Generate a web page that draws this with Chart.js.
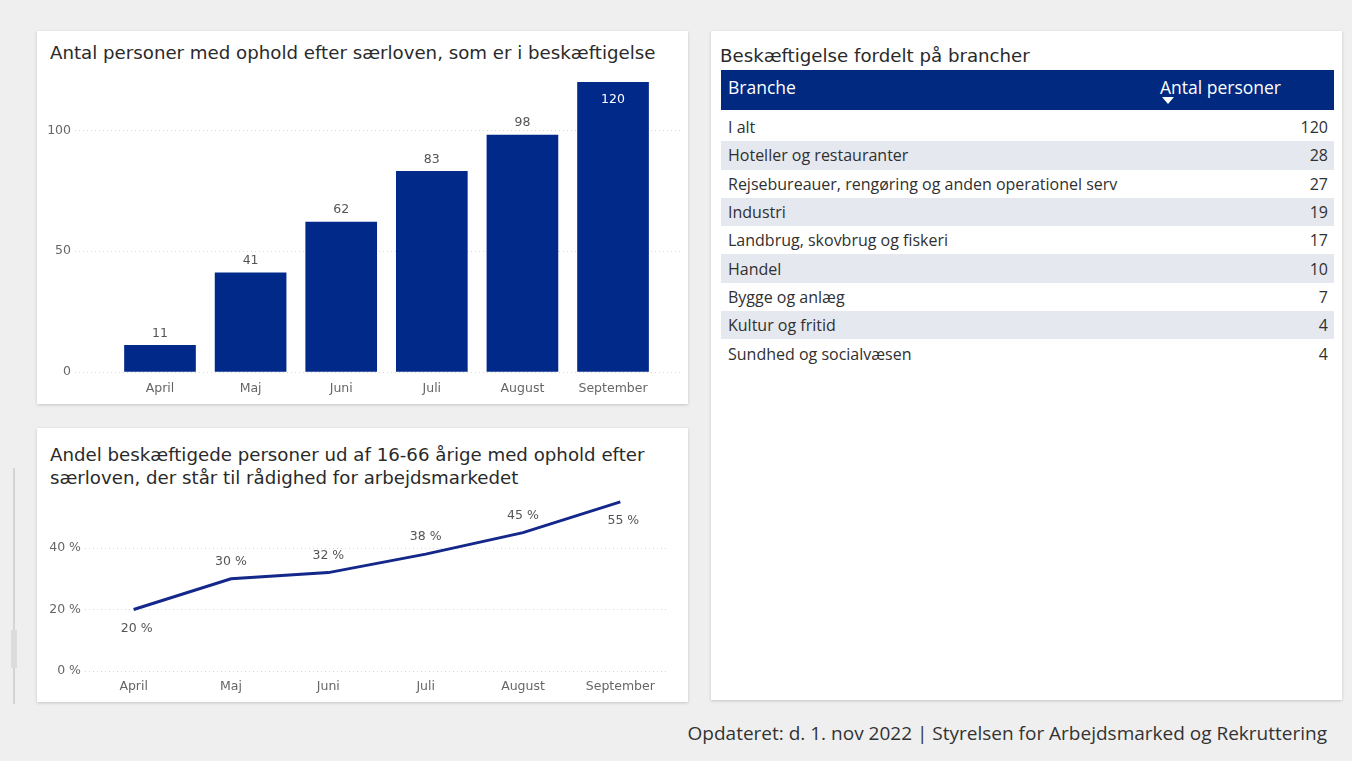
<!DOCTYPE html>
<html>
<head>
<meta charset="utf-8">
<script src="https://cdn.jsdelivr.net/npm/chart.js@4/dist/chart.umd.min.js"></script>
<style>
  html, body { margin:0; padding:0; }
  body { width:1352px; height:761px; background:#efefef; position:relative; overflow:hidden; font-family:"DejaVu Sans", sans-serif; }
  .panel { position:absolute; background:#fff; box-shadow:0 1px 3px rgba(0,0,0,0.18); }
  .title { position:absolute; color:#2a2a2a; font-family:"DejaVu Sans", sans-serif; font-size:18.2px; white-space:nowrap; line-height:23px; }
  canvas { position:absolute; }
  table { position:absolute; border-collapse:collapse; font-family:"Open Sans", sans-serif; font-size:16px; color:#303030; table-layout:fixed; }
  th { background:#00297f; color:#fff; font-weight:normal; font-size:17.5px; text-align:left; vertical-align:top; height:34px; padding:6px 0 0 0; line-height:22px; overflow:visible; }
  td { height:28.3px; padding:0; line-height:22px; white-space:nowrap; }
  tr.alt td { background:#e6e8ef; }
  #footer { position:absolute; right:25px; top:719px; font-family:"Open Sans", sans-serif; font-size:19px; color:#333; white-space:nowrap; line-height:28px; }
  .scrollbar { position:absolute; left:13px; top:468px; width:2px; height:236px; background:#d4d4d4; }
  .scrollbar2 { position:absolute; left:11px; top:630px; width:6px; height:38px; background:#dcdcdc; }
</style>
</head>
<body>
<div class="scrollbar"></div>
<div class="scrollbar2"></div>

<div class="panel" id="p1" style="left:37px; top:31px; width:651px; height:373px;">
  <div class="title" id="t1" style="left:13px; top:10px;"></div>
  <canvas id="c1" width="651" height="338" style="left:0; top:35px; width:651px; height:338px;"></canvas>
</div>

<div class="panel" id="p2" style="left:37px; top:428px; width:651px; height:274px;">
  <div class="title" id="t2" style="left:13px; top:15px;"></div>
  <canvas id="c2" width="651" height="232" style="left:0; top:42px; width:651px; height:232px;"></canvas>
</div>

<div class="panel" id="p3" style="left:711px; top:31px; width:631px; height:669px;">
  <div class="title" id="t3" style="left:9px; top:13px;"></div>
  <table id="tbl" style="left:10px; top:39px; width:613px;"></table>
</div>

<div id="footer"></div>

<script>
// ---- Data ----
const months = ["April", "Maj", "Juni", "Juli", "August", "September"];
const employedCounts = [11, 41, 62, 83, 98, 120];
const employedShare = [20, 30, 32, 38, 45, 55];
const barTicks = [0, 50, 100];
const lineTicks = [0, 20, 40];
const branches = ["I alt", "Hoteller og restauranter", "Rejsebureauer, rengøring og anden operationel serv", "Industri", "Landbrug, skovbrug og fiskeri", "Handel", "Bygge og anlæg", "Kultur og fritid", "Sundhed og socialvæsen"];
const branchCounts = [120, 28, 27, 19, 17, 10, 7, 4, 4];

const title1 = "Antal personer med ophold efter særloven, som er i beskæftigelse";
const title2 = ["Andel beskæftigede personer ud af 16-66 årige med ophold efter", "særloven, der står til rådighed for arbejdsmarkedet"];
const title3 = "Beskæftigelse fordelt på brancher";
const tableHeaders = ["Branche", "Antal personer"];
const footerText = "Opdateret: d. 1. nov 2022 | Styrelsen for Arbejdsmarked og Rekruttering";

// ---- Text ----
document.getElementById('t1').textContent = title1;
document.getElementById('t2').innerHTML = title2.map(s => s.replace(/&/g,'&amp;')).join('<br>');
document.getElementById('t3').textContent = title3;
document.getElementById('footer').textContent = footerText;

// ---- Table ----
(function buildTable(){
  const tbl = document.getElementById('tbl');
  const hr = document.createElement('tr');
  const h1 = document.createElement('th');
  h1.style.paddingLeft = '7px';
  h1.textContent = tableHeaders[0];
  const h2 = document.createElement('th');
  h2.style.width = '174px'; h2.style.position = 'relative';
  h2.innerHTML = '<span style="white-space:nowrap">' + tableHeaders[1] + '</span><span style="position:absolute; left:2px; top:27px; width:0; height:0; border-left:6px solid transparent; border-right:6px solid transparent; border-top:7px solid #fff;"></span>';
  hr.appendChild(h1); hr.appendChild(h2);
  tbl.appendChild(hr);
  branches.forEach((b, i) => {
    const tr = document.createElement('tr');
    if (i % 2 === 1) tr.className = 'alt';
    const a = document.createElement('td');
    a.style.paddingLeft = '7px';
    a.textContent = b;
    const v = document.createElement('td');
    v.style.textAlign = 'right'; v.style.paddingRight = '6px';
    v.textContent = branchCounts[i];
    tr.appendChild(a); tr.appendChild(v);
    tbl.appendChild(tr);
  });
  tbl.rows[1].cells[0].style.paddingTop = '3px';
  tbl.rows[1].cells[1].style.paddingTop = '3px';
})();

// ---- Charts ----
const NAVY = '#00298a';
const AXIS_FONT = { family: 'DejaVu Sans', size: 12.5 };
const AXIS_COLOR = '#666666';

const barLabelPlugin = {
  id: 'barLabels',
  afterDatasetsDraw(chart) {
    const ctx = chart.ctx;
    const meta = chart.getDatasetMeta(0);
    ctx.save();
    ctx.font = '12.5px "DejaVu Sans"';
    ctx.textAlign = 'center';
    ctx.textBaseline = 'middle';
    meta.data.forEach((el, i) => {
      const v = chart.data.datasets[0].data[i].y;
      if (el.y - 24 < chart.chartArea.top) {
        ctx.fillStyle = '#ffffff';
        ctx.fillText(String(v), el.x, el.y + 18);
      } else {
        ctx.fillStyle = '#555555';
        ctx.fillText(String(v), el.x, el.y - 12);
      }
    });
    ctx.restore();
  }
};

new Chart(document.getElementById('c1'), {
  type: 'bar',
  data: {
    datasets: [{
      data: employedCounts.map((v, i) => ({ x: i, y: v })),
      backgroundColor: NAVY,
      barThickness: 71,
      borderWidth: 0
    }]
  },
  options: {
    responsive: false,
    animation: false,
    layout: { padding: { left: 0, right: 8, top: 16, bottom: 0 } },
    plugins: { legend: { display: false }, tooltip: { enabled: false } },
    scales: {
      x: {
        type: 'linear',
        offset: false,
        min: -0.938,
        max: 5.739,
        afterBuildTicks: s => { s.ticks = months.map((_, i) => ({ value: i })); },
        afterFit: s => { s.height = 32; },
        grid: { display: false, drawTicks: false },
        border: { display: false },
        ticks: { callback: v => months[v], font: AXIS_FONT, color: AXIS_COLOR, padding: 9, maxRotation: 0, autoSkip: false }
      },
      y: {
        min: 0,
        max: 120,
        afterBuildTicks: s => { s.ticks = barTicks.map(v => ({ value: v })); },
        afterFit: s => { s.width = 38; },
        grid: { color: '#d6d6d6', drawTicks: false, lineWidth: 1 },
        border: { display: false, dash: [1, 3] },
        ticks: { font: AXIS_FONT, color: AXIS_COLOR, padding: 4 }
      }
    }
  },
  plugins: [barLabelPlugin]
});

const lineLabelPlugin = {
  id: 'lineLabels',
  afterDatasetsDraw(chart) {
    const ctx = chart.ctx;
    const meta = chart.getDatasetMeta(0);
    const n = meta.data.length;
    ctx.save();
    ctx.font = '12.5px "DejaVu Sans"';
    ctx.textAlign = 'center';
    ctx.textBaseline = 'middle';
    ctx.fillStyle = '#555555';
    meta.data.forEach((el, i) => {
      const v = chart.data.datasets[0].data[i];
      const below = (i === 0 || i === n - 1);
      ctx.fillText(v + ' %', el.x + (below ? 3 : 0), el.y + (below ? 19 : -17));
    });
    ctx.restore();
  }
};

new Chart(document.getElementById('c2'), {
  type: 'line',
  data: {
    labels: months,
    datasets: [{
      data: employedShare,
      borderColor: '#14278a',
      borderWidth: 3,
      pointRadius: 0,
      tension: 0,
      fill: false
    }]
  },
  options: {
    responsive: false,
    animation: false,
    layout: { padding: { left: 0, right: 19, top: 16.5, bottom: 0 } },
    plugins: { legend: { display: false }, tooltip: { enabled: false } },
    scales: {
      x: {
        offset: true,
        afterFit: s => { s.height = 31; },
        grid: { display: false, drawTicks: false },
        border: { display: false },
        ticks: { font: AXIS_FONT, color: AXIS_COLOR, padding: 8, maxRotation: 0, autoSkip: false }
      },
      y: {
        min: 0,
        max: 60,
        afterBuildTicks: s => { s.ticks = lineTicks.map(v => ({ value: v })); },
        afterFit: s => { s.width = 48; },
        grid: { color: '#d6d6d6', drawTicks: false },
        border: { display: false, dash: [1, 3] },
        ticks: { font: AXIS_FONT, color: AXIS_COLOR, padding: 4, callback: v => v + ' %' }
      }
    }
  },
  plugins: [lineLabelPlugin]
});
</script>
</body>
</html>
